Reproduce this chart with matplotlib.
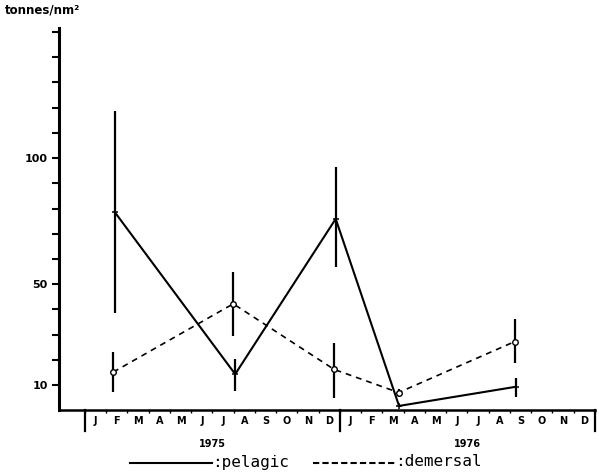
import matplotlib
matplotlib.use('Agg')
import matplotlib.pyplot as plt
from matplotlib.lines import Line2D
import matplotlib.transforms as mtransforms

# months counted from 1 Jan 1975 (0) to 31 Dec 1976 (24)
pel_x = [1.41, 7.07, 11.8, 14.78, 20.28]
pelagic = [78.5, 14.3, 75.9, 1.7, 9.3]
pel_lo = [38.4, 7.5, 56.9, 1.7, 5.4]
pel_hi = [118.5, 20.5, 96.6, 1.7, 12.7]

dem_x = [1.33, 6.98, 11.72, 14.76, 20.22]
demersal = [15.1, 42.2, 16.2, 7.0, 27.2]
dem_lo = [7.1, 29.4, 5.0, 5.1, 18.6]
dem_hi = [23.0, 55.0, 26.7, 8.3, 36.0]

month_labels = ['J', 'F', 'M', 'A', 'M', 'J', 'J', 'A', 'S', 'O', 'N', 'D']
years = ['1975', '1976']
y_labels = [10, 50, 100]

fig = plt.figure(figsize=(5.99, 4.74), dpi=100)
ax = fig.add_axes([59 / 599, 0.1346, 536 / 599, 0.8063])
ax.set_xlim(-1.22, 24)
ax.set_ylim(0, 151.6)

for s in ['top', 'right']:
    ax.spines[s].set_visible(False)
ax.spines['left'].set_linewidth(2.2)
ax.spines['bottom'].set_linewidth(1.8)

# y axis
ax.set_yticks(y_labels)
ax.set_yticklabels([str(v) for v in y_labels], fontsize=8, fontweight='bold')
ax.set_yticks([v for v in range(10, 151, 10) if v not in y_labels], minor=True)
ax.tick_params(axis='y', which='both', direction='out', length=5, width=1.5, pad=3)

# x axis: month labels and boundary ticks
ax.set_xticks([i + 0.5 for i in range(24)])
ax.set_xticklabels(month_labels * 2, fontsize=7, fontweight='bold')
ax.set_xticks(list(range(25)), minor=True)
ax.tick_params(axis='x', which='major', length=0, pad=4)
ax.tick_params(axis='x', which='minor', length=2.5, width=1, direction='out')

trans = mtransforms.blended_transform_factory(ax.transData, ax.transAxes)
for xb in [0, 12, 24]:
    ax.plot([xb, xb], [0, -0.055], color='black', lw=1.6, transform=trans, clip_on=False)
for i, yr in enumerate(years):
    ax.text(12 * i + 6, -0.075, yr, transform=trans, ha='center', va='top',
            fontsize=7, fontweight='bold')

# data
ax.vlines(pel_x, pel_lo, pel_hi, color='black', lw=1.6)
ax.vlines(dem_x, dem_lo, dem_hi, color='black', lw=1.6)
ax.plot(pel_x, pelagic, color='black', lw=1.5, marker='+', ms=5, mew=1.1)
ax.plot(dem_x, demersal, color='black', lw=1.2, ls=(0, (3.5, 3)),
        marker='o', ms=4, mfc='white', mec='black', mew=1)

# y label
fig.text(5 / 599, 1 - 10 / 474, 'tonnes/nm²', ha='left', va='center',
         fontsize=8.5, fontweight='bold')

# legend drawn under the chart
fig.add_artist(Line2D([130 / 599, 212 / 599], [1 - 463 / 474] * 2, color='black', lw=1.5))
fig.text(212 / 599, 1 - 462 / 474, ':pelagic', ha='left', va='center',
         fontsize=11.5, family='DejaVu Sans Mono')
fig.add_artist(Line2D([313 / 599, 395 / 599], [1 - 463 / 474] * 2, color='black', lw=1.5,
                      ls=(0, (3, 1.5))))
fig.text(395 / 599, 1 - 462 / 474, ':demersal', ha='left', va='center',
         fontsize=11.5, family='DejaVu Sans Mono')

fig.savefig('out.png', dpi=100)
